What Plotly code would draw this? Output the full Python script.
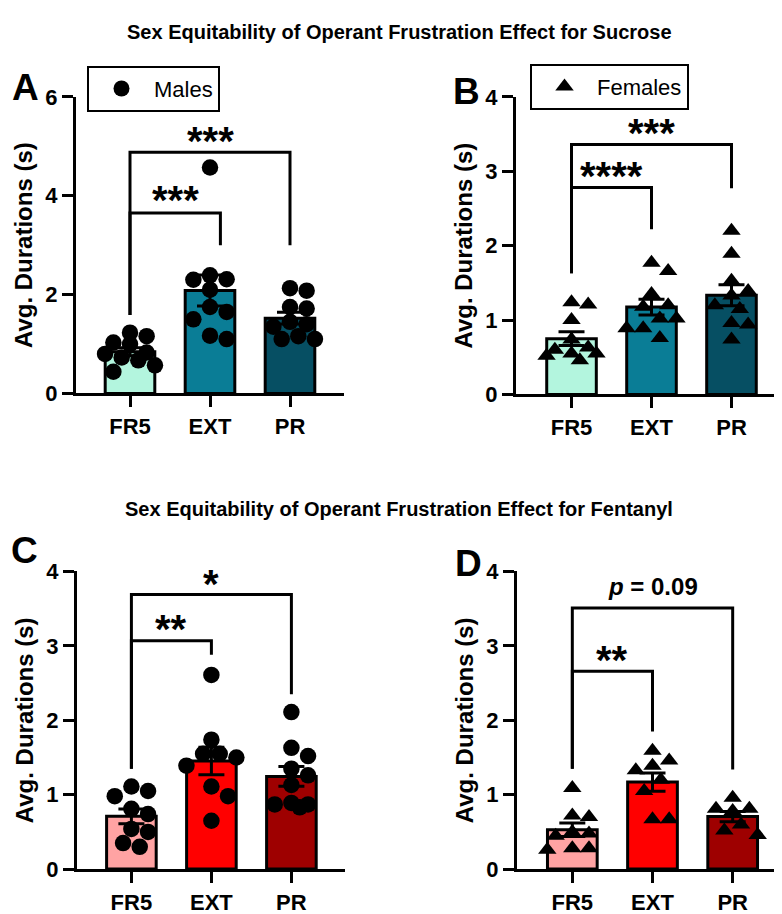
import numpy as np
import plotly.graph_objects as go

# categories and per-animal values (s)
cats = ["FR5", "EXT", "PR"]

suc_males = [
    [1.23, 1.16, 1.03, 1.00, 0.83, 0.80, 0.73, 0.67, 0.57, 0.44],
    [4.57, 2.39, 2.31, 2.30, 2.10, 1.75, 1.65, 1.50, 1.17, 1.10],
    [2.13, 2.08, 1.75, 1.72, 1.45, 1.40, 1.35, 1.16, 1.10, 1.10],
]
suc_females = [
    [1.24, 1.21, 1.00, 0.74, 0.63, 0.60, 0.55, 0.55, 0.52, 0.46],
    [1.77, 1.66, 1.35, 1.20, 1.18, 1.02, 1.02, 0.89, 0.89, 0.76],
    [2.20, 1.89, 1.53, 1.39, 1.33, 1.20, 1.15, 0.96, 0.94, 0.74],
]
fen_males = [
    [1.11, 1.05, 0.98, 0.81, 0.74, 0.54, 0.50, 0.35, 0.30],
    [2.61, 1.74, 1.55, 1.55, 1.50, 1.39, 1.11, 0.98, 0.65],
    [2.11, 1.63, 1.52, 1.35, 1.26, 1.13, 0.89, 0.87, 0.87, 0.83],
]
fen_females = [
    [1.09, 0.72, 0.70, 0.50, 0.48, 0.45, 0.28, 0.28, 0.26],
    [1.59, 1.46, 1.39, 1.33, 1.20, 1.05, 0.67, 0.67],
    [0.96, 0.81, 0.81, 0.78, 0.60, 0.52, 0.46],
]

# significance brackets: [lower (FR5-EXT), upper (FR5-PR)]
brk_top = [[3.65, 4.88], [2.78, 3.36], [3.07, 3.69], [2.66, 3.51]]
brk_left_bottom = [1.59, 1.63, 1.35, 1.35]
brk_right_bottom = [[3.0, 3.0], [2.22, 2.77], [2.88, 2.35], [1.85, 1.34]]
brk_ext_x = [1.13, 1.0, 1.0, 1.0]
brk_labels = [["***", "***"], ["****", "***"], ["**", "*"], ["**", "<i>p</i> = 0.09"]]
brk_label_y = [[4.08, 5.27], [3.04, 3.62], [3.33, 3.94], [2.92, 3.80]]

suc_colors = ["#B3F5DE", "#0A7D96", "#064F63"]
fen_colors = ["#FFA3A3", "#FF0000", "#9E0000"]

W, H = 782, 914
FONT = "Liberation Sans, Arial, sans-serif"


def px(x):
    return x / W


def py(y):
    return 1 - y / H


def swarm(vals, unit_px, dia=16.0, spacing=80.0):
    # simple deterministic beeswarm offsets (in category units)
    placed, offs = [], []
    cands = [0, 1, -1, 2, -2, 3, -3]
    for v in vals:
        y = v * unit_px
        best, best_d = 0.0, -1
        for k in cands:
            x = k * dia * 0.52
            d = min([np.hypot(x - a, y - b) for a, b in placed] or [1e9])
            if d >= dia * 0.95:
                best = x
                break
            if d > best_d:
                best, best_d = x, d
        placed.append((best, y))
        offs.append(best / spacing)
    return offs


panels = [
    dict(data=suc_males, colors=suc_colors, symbol="circle", size=16.5, yr=6, dtick=2,
         xd=[68, 336], yd=[384, 79], xr=[-0.675, 2.675], name="Males", legend="legend"),
    dict(data=suc_females, colors=suc_colors, symbol="triangle-up", size=16, yr=4, dtick=1,
         xd=[508, 779], yd=[385, 79], xr=[-0.694, 2.694], name="Females", legend="legend2"),
    dict(data=fen_males, colors=fen_colors, symbol="circle", size=16.5, yr=4, dtick=1,
         xd=[69, 337], yd=[873, 567], xr=[-0.68, 2.67], name="Males", legend=None),
    dict(data=fen_females, colors=fen_colors, symbol="triangle-up", size=16, yr=4, dtick=1,
         xd=[509, 780], yd=[873, 567], xr=[-0.69, 2.69], name="Females", legend=None),
]

fig = go.Figure()
layout = {}

for i, p in enumerate(panels):
    sfx = "" if i == 0 else str(i + 1)
    xa, ya = "x" + sfx, "y" + sfx
    means = [float(np.mean(v)) for v in p["data"]]
    sems = [float(np.std(v, ddof=1) / np.sqrt(len(v))) for v in p["data"]]
    unit_px = (p["yd"][0] - p["yd"][1]) / p["yr"]

    fig.add_trace(go.Bar(
        x=[0, 1, 2], y=means, width=0.62, xaxis=xa, yaxis=ya,
        marker=dict(color=p["colors"], line=dict(color="black", width=3)),
        error_y=dict(type="data", array=sems, color="black", thickness=3, width=13),
        showlegend=False, hoverinfo="skip",
    ))

    xs, ys = [], []
    for c, vals in enumerate(p["data"]):
        offs = swarm(vals, unit_px)
        xs += [c + o for o in offs]
        ys += vals
    fig.add_trace(go.Scatter(
        x=xs, y=ys, mode="markers", xaxis=xa, yaxis=ya, name=p["name"],
        marker=dict(symbol=p["symbol"], size=p["size"], color="black"),
        showlegend=p["legend"] is not None,
        legend=p["legend"] if p["legend"] else "legend",
    ))

    # brackets
    for j in range(2):
        x1 = brk_ext_x[i] if j == 0 else 2
        fig.add_trace(go.Scatter(
            x=[0, 0, x1, x1],
            y=[brk_left_bottom[i], brk_top[i][j], brk_top[i][j], brk_right_bottom[i][j]],
            mode="lines", line=dict(color="black", width=3),
            xaxis=xa, yaxis=ya, showlegend=False, hoverinfo="skip",
        ))
        lab = brk_labels[i][j]
        is_star = lab.startswith("*")
        fig.add_annotation(
            x=x1 / 2, y=brk_label_y[i][j], xref=xa, yref=ya, text=lab,
            showarrow=False, xanchor="center", yanchor="middle",
            yshift=-8 if is_star else 0,
            font=dict(family=FONT, size=40 if is_star else 24, color="black", weight="bold"),
        )

    axfont = dict(family=FONT, size=22, color="black", weight="bold")
    layout["xaxis" + sfx] = dict(
        domain=[px(p["xd"][0]), px(p["xd"][1])], anchor=ya, range=p["xr"],
        tickmode="array", tickvals=[0, 1, 2], ticktext=cats,
        showline=True, linecolor="black", linewidth=3, ticks="outside",
        ticklen=11, tickwidth=3, tickcolor="black", showgrid=False, zeroline=False,
        tickfont=axfont, fixedrange=True,
    )
    layout["yaxis" + sfx] = dict(
        domain=[py(p["yd"][0]), py(p["yd"][1])], anchor=xa, range=[0, p["yr"]],
        dtick=p["dtick"], tick0=0,
        showline=True, linecolor="black", linewidth=3, ticks="outside",
        ticklen=11, tickwidth=3, tickcolor="black", showgrid=False, zeroline=False,
        tickfont=axfont, fixedrange=True,
        title=dict(text="Avg. Durations (s)", standoff=6,
                   font=dict(family=FONT, size=24, color="black", weight="bold")),
    )

# panel letters
for lab, (lx, ly) in zip("ABCD", [(17, 69), (458, 73), (16, 545), (460, 559)]):
    fig.add_annotation(x=px(lx), y=py(ly), xref="paper", yref="paper", text=lab,
                       showarrow=False, xanchor="center", yanchor="middle",
                       font=dict(family=FONT, size=37, color="black", weight="bold"))

# section titles
for txt, ty in [("Sex Equitability of Operant Frustration Effect for Sucrose", 12),
                ("Sex Equitability of Operant Frustration Effect for Fentanyl", 503)]:
    fig.add_annotation(x=0.5, y=py(ty), xref="paper", yref="paper", text=txt,
                       showarrow=False, xanchor="center", yanchor="middle",
                       font=dict(family=FONT, size=20, color="black", weight="bold"))

legfont = dict(family=FONT, size=22, color="black")
fig.update_layout(
    **layout,
    width=W, height=H,
    margin=dict(l=0, r=0, t=0, b=0),
    paper_bgcolor="white", plot_bgcolor="white",
    barmode="overlay",
    legend=dict(x=px(79), y=py(47), xanchor="left", yanchor="top",
                bordercolor="black", borderwidth=2, font=legfont, itemwidth=55,
                bgcolor="white"),
    legend2=dict(x=px(522), y=py(45), xanchor="left", yanchor="top",
                 bordercolor="black", borderwidth=2, font=legfont, itemwidth=55,
                 bgcolor="white"),
)

fig.write_html("out.html")
